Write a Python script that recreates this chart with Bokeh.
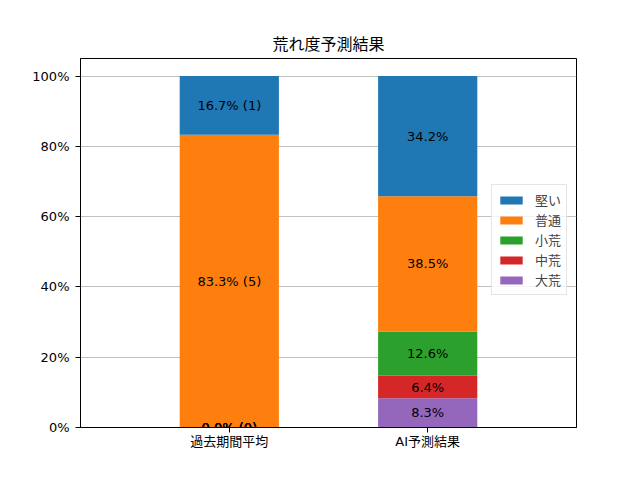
from bokeh.plotting import figure
from bokeh.models import (ColumnDataSource, Range1d, FixedTicker, PrintfTickFormatter,
                          Legend, LegendItem, Label)
from bokeh.embed import file_html
from bokeh.resources import INLINE

# ---- data ----
categories = ["過去期間平均", "AI予測結果"]
levels = ["大荒", "中荒", "小荒", "普通", "堅い"]  # bottom -> top
past_pct = [0.0, 0.0, 0.0, 83.3, 16.7]
past_count = [0, 0, 0, 5, 1]
ai_pct = [8.3, 6.4, 12.6, 38.5, 34.2]
colors = ["#9467bd", "#d62728", "#2ca02c", "#ff7f0e", "#1f77b4"]
y_ticks = [0, 20, 40, 60, 80, 100]

FONT = "DejaVu Sans, Noto Sans CJK JP"

xs = [0, 1]
data = {"x": xs}
for i, lv in enumerate(levels):
    data[lv] = [past_pct[i], ai_pct[i]]
src = ColumnDataSource(data)

p = figure(width=640, height=480, output_backend="svg", toolbar_location=None,
           x_range=Range1d(-0.75, 1.75), y_range=Range1d(0, 105),
           min_border_left=80, min_border_right=64, min_border_top=58, min_border_bottom=53,
           title="荒れ度予測結果")

p.title.align = "center"
p.title.text_font = FONT
p.title.text_font_size = "16px"
p.title.text_font_style = "normal"
p.title.text_color = "#000000"

renderers = p.vbar_stack(levels, x="x", width=0.5, source=src, color=colors, line_width=0)

# labels (bar_label style, centred in each segment)
for j, pcts in enumerate([past_pct, ai_pct]):
    bottom = 0.0
    for i, v in enumerate(pcts):
        if j == 0:
            t = f"{v:.1f}% ({past_count[i]})"
        else:
            t = f"{v:.1f}%"
        p.add_layout(Label(x=xs[j], y=bottom + v / 2, text=t, text_align="center",
                           text_baseline="middle", text_font=FONT, text_font_size="13px",
                           text_color="#000000", level="overlay"))
        bottom += v

# axes
p.xaxis.ticker = FixedTicker(ticks=xs)
p.xaxis.major_label_overrides = {0: categories[0], 1: categories[1]}
p.yaxis.ticker = FixedTicker(ticks=y_ticks)
p.yaxis.formatter = PrintfTickFormatter(format="%d%%")
for ax in [p.xaxis[0], p.yaxis[0]]:
    ax.major_label_text_font = FONT
    ax.major_label_text_font_size = "13px"
    ax.major_label_text_color = "#000000"
    ax.axis_line_color = "#000000"
    ax.major_tick_line_color = "#000000"
    ax.major_tick_out = 5
    ax.major_tick_in = 0
    ax.minor_tick_line_color = None
p.xaxis.major_label_standoff = 1
p.yaxis.major_label_standoff = 6

p.xgrid.grid_line_color = None
p.ygrid.grid_line_color = "#b0b0b0"
p.ygrid.grid_line_width = 0.8
p.outline_line_color = "#000000"
p.outline_line_alpha = 1.0
p.background_fill_color = "white"
p.border_fill_color = "white"

items = [LegendItem(label=levels[i], renderers=[renderers[i]]) for i in range(len(levels) - 1, -1, -1)]
legend = Legend(items=items, location=(411, 132), margin=0, padding=5,
                glyph_width=28, glyph_height=10, label_height=14, spacing=1,
                label_standoff=10, label_text_font=FONT, label_text_font_size="13px",
                border_line_color="#cccccc", background_fill_alpha=0.8)
p.add_layout(legend, "center")

open("out.html", "w").write(file_html(p, INLINE))
